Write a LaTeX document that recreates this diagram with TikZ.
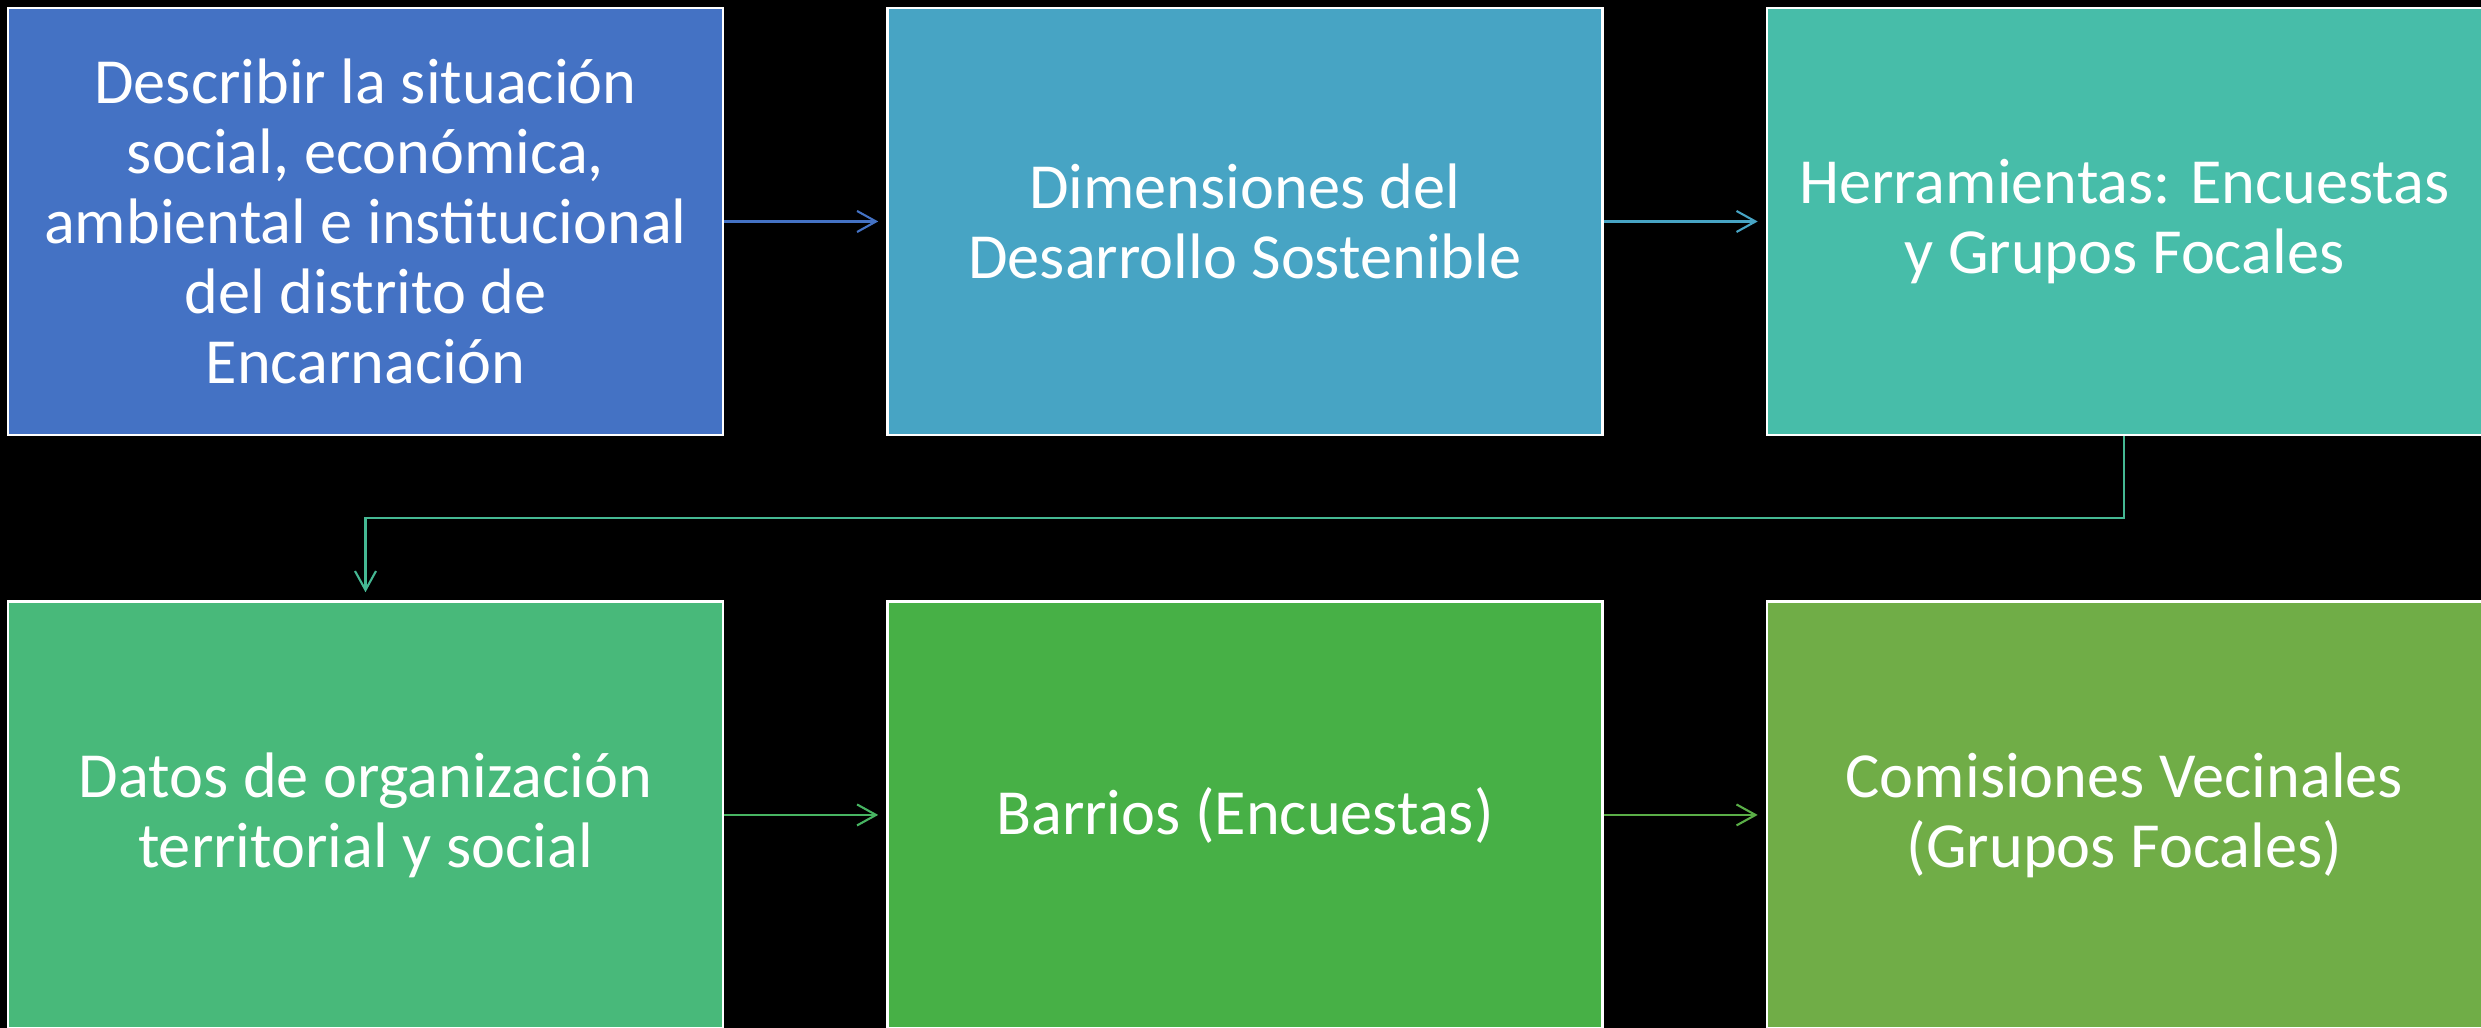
\documentclass[tikz,border=0pt]{standalone}
\usepackage{fontspec}
\setmainfont{Carlito}
\usepackage{tikz}
\usetikzlibrary{positioning, arrows.meta}

\definecolor{cOne}{HTML}{4472C4}
\definecolor{cTwo}{HTML}{47A4C4}
\definecolor{cThree}{HTML}{47BDA9}
\definecolor{cFour}{HTML}{48B97A}
\definecolor{cFive}{HTML}{47B046}
\definecolor{cSix}{HTML}{70AD47}
\definecolor{cBend}{HTML}{45B893}
\definecolor{cArrFour}{HTML}{47B462}
\definecolor{cArrFive}{HTML}{5AAE47}

\begin{document}
\begin{tikzpicture}[
    stepbox/.style={draw=white, line width=0.7pt, text=white, align=center,
        minimum width=7.15cm, minimum height=4.27cm, inner sep=0pt,
        font=\fontsize{18.3pt}{19.9pt}\selectfont},
    flow/.style={line width=0.6pt, -{Straight Barb[length=1.9mm, width=2.1mm]}, shorten >=0.8mm}
    ]
                
                %Background
                \fill[black] (0,0) rectangle (24.81,10.28);
                \useasboundingbox (0,0) rectangle (24.81,10.28);
                
                %Top row
                \node[stepbox, fill=cOne] (describir) at (3.655,8.065) {Describir la situación\\ social, económica,\\ ambiental e institucional\\ del distrito de\\ Encarnación};
                \node[stepbox, fill=cTwo, right=1.62cm of describir] (dimensiones) {Dimensiones del\\ Desarrollo Sostenible};
                \node[stepbox, fill=cThree, right=1.62cm of dimensiones] (herramientas) {Herramientas: Encuestas\\ y Grupos Focales};
                
                %Bottom row
                \node[stepbox, fill=cFour, below=1.64cm of describir] (datos) {Datos de organización\\ territorial y social};
                \node[stepbox, fill=cFive, right=1.62cm of datos] (barrios) {Barrios (Encuestas)};
                \node[stepbox, fill=cSix, right=1.62cm of barrios] (comisiones) {Comisiones Vecinales\\ (Grupos Focales)};
                
                %Connectors
                \draw[flow, cOne] (describir) -- (dimensiones);
                \draw[flow, cTwo] (dimensiones) -- (herramientas);
                \coordinate (bend) at (0,5.1);
                \draw[flow, cBend] (herramientas.south) -- (herramientas.south |- bend) -| (datos.north);
                \draw[flow, cArrFour] (datos) -- (barrios);
                \draw[flow, cArrFive] (barrios) -- (comisiones);
                    
            \end{tikzpicture}
\end{document}
